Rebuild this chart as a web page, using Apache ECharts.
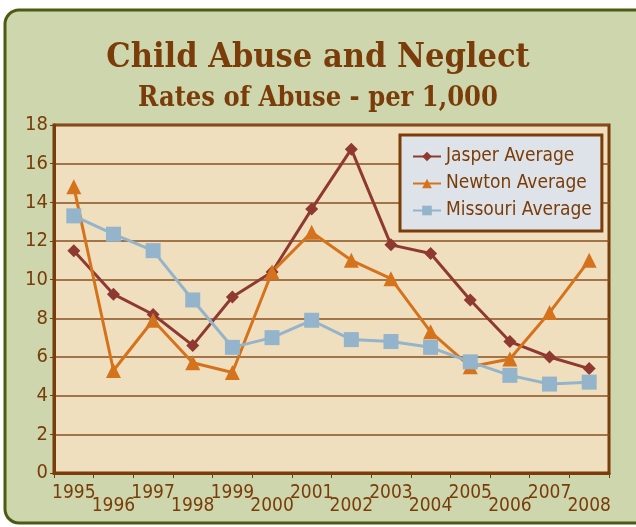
<!DOCTYPE html>
<html>
<head>
<meta charset="utf-8">
<script src="https://cdn.jsdelivr.net/npm/echarts@6/dist/echarts.min.js"></script>
<style>
  html, body { margin: 0; padding: 0; background: #ffffff; }
  #chart { width: 636px; height: 527px; }
</style>
</head>
<body>
<div id="chart"></div>
<script>
// data
let years = ['1995', '1996', '1997', '1998', '1999', '2000', '2001', '2002', '2003', '2004', '2005', '2006', '2007', '2008'];
let jasper = [11.5, 9.25, 8.2, 6.6, 9.1, 10.4, 13.65, 16.75, 11.8, 11.35, 8.95, 6.8, 6.0, 5.4];
let newton = [14.8, 5.3, 7.9, 5.7, 5.2, 10.4, 12.45, 11.0, 10.05, 7.3, 5.5, 5.9, 8.3, 11.0];
let missouri = [13.3, 12.35, 11.5, 8.95, 6.5, 7.0, 7.9, 6.9, 6.8, 6.5, 5.75, 5.05, 4.6, 4.7];

let brown = '#7a3c08';
let narrow = '"Liberation Sans Narrow", "DejaVu Sans Condensed", sans-serif';
let serif = '"DejaVu Serif Condensed", "DejaVu Serif", serif';

let myChart = echarts.init(document.getElementById('chart'));

function lineSeries(name, data, color, symbol, size) {
  return {
    name: name,
    type: 'line',
    data: data,
    symbol: symbol,
    symbolSize: size,
    showSymbol: true,
    lineStyle: { color: color, width: 3 },
    itemStyle: { color: color },
    z: 3
  };
}

let option = {
  animation: false,
  graphic: [
    {
      type: 'rect',
      z: -10,
      shape: { x: 5, y: 10, width: 660, height: 513, r: 14 },
      style: { fill: '#cdd6ad', stroke: '#4b5c12', lineWidth: 3 }
    }
  ],
  title: {
    text: 'Child Abuse and Neglect',
    subtext: 'Rates of Abuse - per 1,000',
    left: 'center',
    top: 36,
    itemGap: 10,
    textStyle: {
      fontFamily: serif,
      fontWeight: 'bold',
      fontSize: 34,
      color: brown
    },
    subtextStyle: {
      fontFamily: serif,
      fontWeight: 'bold',
      fontSize: 27,
      color: brown
    }
  },
  legend: {
    orient: 'vertical',
    left: 400,
    top: 135,
    padding: [12, 10, 11, 12],
    itemGap: 8,
    itemWidth: 28,
    itemHeight: 12,
    backgroundColor: '#dde3e8',
    borderColor: brown,
    borderWidth: 3,
    borderRadius: 0,
    textStyle: { fontFamily: narrow, fontSize: 19, color: brown },
    data: ['Jasper Average', 'Newton Average', 'Missouri Average']
  },
  grid: {
    left: 54,
    right: 27,
    top: 125,
    bottom: 54,
    show: true,
    backgroundColor: '#f0dfbe',
    borderColor: brown,
    borderWidth: 3
  },
  xAxis: {
    type: 'category',
    data: years,
    boundaryGap: true,
    axisLine: { lineStyle: { color: brown, width: 3 } },
    axisTick: { show: true, length: 5, lineStyle: { color: brown, width: 1 } },
    axisLabel: {
      interval: 0,
      margin: 11,
      color: brown,
      fontFamily: narrow,
      fontSize: 19,
      formatter: function (v, i) {
        return i % 2 ? '{lo|' + v + '}' : '{hi|' + v + '}';
      },
      rich: {
        hi: { fontFamily: narrow, fontSize: 19, color: brown, padding: [0, 0, 0, 0] },
        lo: { fontFamily: narrow, fontSize: 19, color: brown, padding: [13, 0, 0, 0] }
      }
    }
  },
  yAxis: {
    type: 'value',
    min: 0,
    max: 18,
    interval: 2,
    axisLine: { show: true, lineStyle: { color: brown, width: 3 } },
    axisTick: { show: true, length: 4, lineStyle: { color: brown, width: 1 } },
    axisLabel: { color: brown, fontFamily: narrow, fontSize: 20, margin: 6 },
    splitLine: { lineStyle: { color: '#8a5020', width: 1.5 } }
  },
  series: [
    lineSeries('Jasper Average', jasper, '#8e3a30', 'diamond', 13),
    lineSeries('Newton Average', newton, '#d5731c', 'triangle', 15),
    lineSeries('Missouri Average', missouri, '#93b4ca', 'rect', 15)
  ]
};

myChart.setOption(option);
</script>
</body>
</html>
